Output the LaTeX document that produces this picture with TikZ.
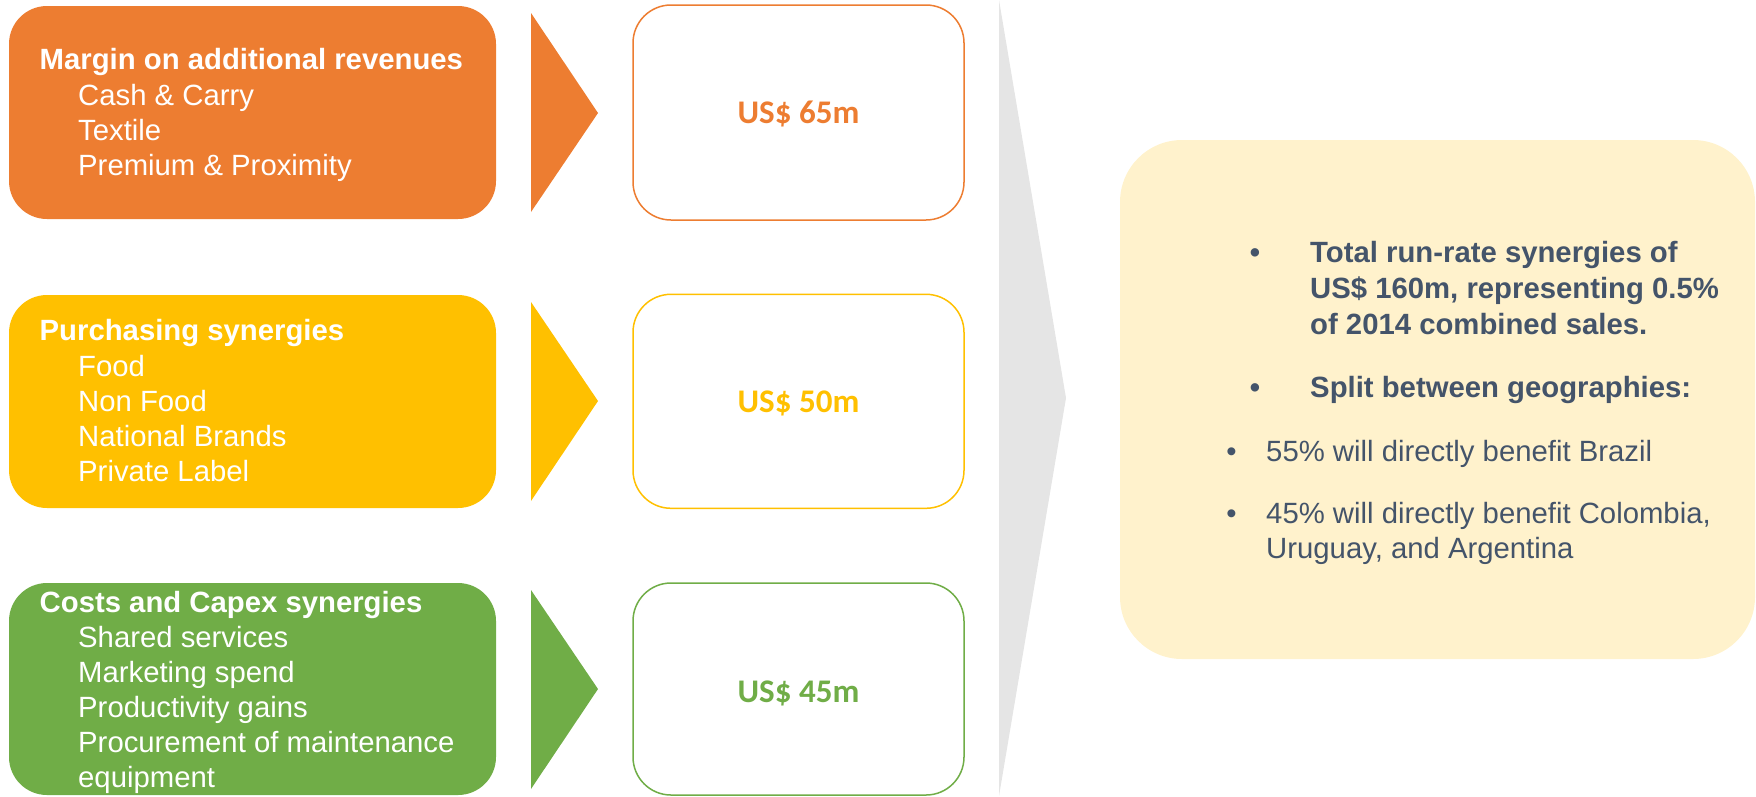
\documentclass[tikz,border=0pt]{standalone}
\usepackage{fontspec}
\setmainfont{Liberation Sans}
\newfontfamily\valuefont{Carlito}
\definecolor{synOrange}{HTML}{ED7D31}
\definecolor{synYellow}{HTML}{FFC000}
\definecolor{synGreen}{HTML}{70AD47}
\definecolor{slateText}{HTML}{44546A}
\definecolor{panelFill}{HTML}{FFF2CC}
\definecolor{chevGray}{HTML}{E5E5E5}

\begin{document}
\begin{tikzpicture}[x=1pt,y=-1pt,
  catbox/.style={rounded corners=38pt, minimum width=487pt, minimum height=213pt, inner sep=0pt, draw=none},
  valbox/.style={rounded corners=38pt, fill=white, line width=1.5pt, minimum width=331pt, minimum height=214pt, inner sep=0pt},
  headtxt/.style={anchor=base west, inner sep=0pt, text=white, font=\bfseries\fontsize{29.3}{35}\selectfont},
  itemtxt/.style={anchor=base west, inner sep=0pt, text=white, font=\fontsize{29.3}{35}\selectfont},
  valtxt/.style={anchor=base, inner sep=0pt, font=\valuefont\bfseries\fontsize{33}{40}\selectfont},
  sumbold/.style={anchor=base west, inner sep=0pt, text=slateText, font=\bfseries\fontsize{29.3}{36}\selectfont},
  sumtxt/.style={anchor=base west, inner sep=0pt, text=slateText, font=\fontsize{29.3}{36}\selectfont},
  bulletbold/.style={anchor=base, inner sep=0pt, text=slateText, font=\bfseries\fontsize{29.3}{36}\selectfont},
  bulletreg/.style={anchor=base, inner sep=0pt, text=slateText, font=\fontsize{29.3}{36}\selectfont}
]
\useasboundingbox (0,0) rectangle (1756,796);

% large grey chevron separating the breakdown from the summary
\fill[chevGray] (999,0) -- (1066,398) -- (999,796) -- cycle;

% summary panel
\node[fill=panelFill, rounded corners=62pt, minimum width=635pt, minimum height=519pt, inner sep=0pt] (panel) at (1437.5,399.5) {};

% ---- row 1: margin on additional revenues
\node[catbox, fill=synOrange] (catA) at (252.5,112.5) {};
\fill[synOrange] (531,13) -- (598,113) -- (531,212) -- cycle;
\node[valbox, draw=synOrange, minimum height=215pt] (valA) at (798.5,112.5) {};
\node[valtxt, text=synOrange] (valAtxt) at (798.5,123) {US\$ 65m};
\node[headtxt] (catAhead) at (39.5,69.5) {Margin on additional revenues};
\node[itemtxt] (catA1) at (78,105) {Cash \& Carry};
\node[itemtxt] (catA2) at (78,140) {Textile};
\node[itemtxt] (catA3) at (78,175) {Premium \& Proximity};

% ---- row 2: purchasing synergies
\node[catbox, fill=synYellow] (catB) at (252.5,401.5) {};
\fill[synYellow] (531,302) -- (598,401) -- (531,501) -- cycle;
\node[valbox, draw=synYellow] (valB) at (798.5,401.3) {};
\node[valtxt, text=synYellow] (valBtxt) at (798.5,412) {US\$ 50m};
\node[headtxt] (catBhead) at (39.5,340) {Purchasing synergies};
\node[itemtxt] (catB1) at (78,376) {Food};
\node[itemtxt] (catB2) at (78,411) {Non Food};
\node[itemtxt] (catB3) at (78,446) {National Brands};
\node[itemtxt] (catB4) at (78,481) {Private Label};

% ---- row 3: costs and capex synergies
\node[catbox, fill=synGreen, minimum height=212pt] (catC) at (252.5,689) {};
\fill[synGreen] (531,590) -- (598,689) -- (531,789) -- cycle;
\node[valbox, draw=synGreen, minimum height=212pt] (valC) at (798.5,689) {};
\node[valtxt, text=synGreen] (valCtxt) at (798.5,702) {US\$ 45m};
\node[headtxt] (catChead) at (39.5,612) {Costs and Capex synergies};
\node[itemtxt] (catC1) at (78,647) {Shared services};
\node[itemtxt] (catC2) at (78,682) {Marketing spend};
\node[itemtxt] (catC3) at (78,717) {Productivity gains};
\node[itemtxt] (catC4) at (78,752) {Procurement of maintenance};
\node[itemtxt] (catC5) at (78,787) {equipment};

% ---- summary text
\node[bulletbold] (bulA) at (1255,262) {•};
\node[sumbold] (sumA1) at (1310,262) {Total run-rate synergies of};
\node[sumbold] (sumA2) at (1310,298) {US\$ 160m, representing 0.5\%};
\node[sumbold] (sumA3) at (1310,334) {of 2014 combined sales.};
\node[bulletbold] (bulB) at (1255,397) {•};
\node[sumbold] (sumB) at (1310,397) {Split between geographies:};
\node[bulletreg] (bulC) at (1231.5,461) {•};
\node[sumtxt] (sumC) at (1266,461) {55\% will directly benefit Brazil};
\node[bulletreg] (bulD) at (1231.5,523.5) {•};
\node[sumtxt] (sumD1) at (1266,523.5) {45\% will directly benefit Colombia,};
\node[sumtxt] (sumD2) at (1266,558.5) {Uruguay, and Argentina};
\end{tikzpicture}
\end{document}
